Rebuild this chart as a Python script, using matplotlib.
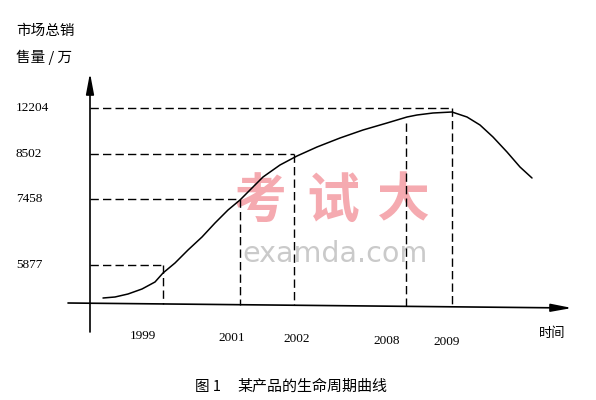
import matplotlib
matplotlib.use('Agg')
import matplotlib.pyplot as plt
import numpy as np

# years on the time axis and where each one sits
years = ['1999', '2001', '2002', '2008', '2009']
year_x = [73, 150, 204, 316, 362]

# sales levels marked on the vertical axis (万)
sales = ['5877', '7458', '8502', '12204']
sales_y = [39, 105, 150, 196]
sales_year = ['1999', '2001', '2002', '2009']   # dashed guide runs to this year
guide_2008_top = 181

# life cycle curve
curve_x = [13, 25, 38, 52, 65, 73, 85, 98, 112, 125, 138, 150, 160, 173, 190,
           207, 227, 250, 273, 297, 317, 327, 343, 362, 377, 390, 403, 417,
           430, 442]
curve_y = [6, 7, 10, 15, 22, 31, 41, 54, 67, 81, 94, 104, 114, 127, 139,
           148, 157, 166, 174, 181, 187, 189, 191, 192, 187, 179, 167, 152,
           137, 126]

# x axis is drawn slightly tilted in the scan
xaxis_x = [-22, 482]
xaxis_y = [1, -4]

cjk = ['Noto Sans CJK SC', 'DejaVu Sans']
serif = 'Liberation Serif'

fig = plt.figure(figsize=(5.96, 4), dpi=100)
ax = fig.add_axes([0, 0, 1, 1])
ax.set_xlim(-90, 506)
ax.set_ylim(-96, 304)
ax.axis('off')

# watermark
for ch, cx in zip('考试大', [170, 243, 313]):
    ax.text(cx, 103, ch, family=cjk, fontsize=38, fontweight='bold',
            color='#F5AAB0', ha='center', va='center', zorder=0)
ax.text(245, 50, 'examda.com', family='DejaVu Sans', fontsize=20.5,
        color='#CACACA', ha='center', va='center', zorder=0)

# axes with arrows
arrow = dict(arrowstyle='-|>,head_length=0.9,head_width=0.17', color='k',
             lw=1.2, mutation_scale=14, shrinkA=0, shrinkB=0)
ax.annotate('', xy=(xaxis_x[1], xaxis_y[1]), xytext=(xaxis_x[0], xaxis_y[0]),
            arrowprops=arrow)
ax.annotate('', xy=(0, 231), xytext=(0, -28), arrowprops=arrow)

# dashed guides
pos = dict(zip(years, year_x))
dash = (0, (6, 3))
for lab, y, yr in zip(sales, sales_y, sales_year):
    xr = pos[yr]
    ax.plot([0, xr], [y, y], ls=dash, lw=1.0, color='k')
    base = np.interp(xr, xaxis_x, xaxis_y)
    ax.plot([xr, xr], [y, base], ls=dash, lw=1.0, color='k')
    ax.text(-74, y, lab, family=serif, fontsize=9.5, ha='left', va='center')
x8 = pos['2008']
ax.plot([x8, x8], [guide_2008_top, np.interp(x8, xaxis_x, xaxis_y)],
        ls=dash, lw=1.0, color='k')

ax.plot(curve_x, curve_y, color='k', lw=1.1, solid_joinstyle='round',
        solid_capstyle='round')

# year labels under the axis
label_x = [53, 142, 207, 297, 357]
label_y = [-32, -34, -35, -37, -38]
for yr, lx, ly in zip(years, label_x, label_y):
    ax.text(lx, ly, yr, family=serif, fontsize=9.5, ha='center', va='center')

ax.text(-74, 273, '市场总销', family=cjk, fontsize=10.5, ha='left', va='center')
ax.text(-74, 247, '售量 / 万', family=cjk, fontsize=10.5, ha='left', va='center')
ax.text(462, -29, '时间', family=cjk, fontsize=9.5, ha='center', va='center')
ax.text(105, -83, '图 1', family=cjk, fontsize=10.5, ha='left', va='center')
ax.text(147, -83, '某产品的生命周期曲线', family=cjk, fontsize=10.8,
        ha='left', va='center')

fig.savefig('out.png', dpi=100)
